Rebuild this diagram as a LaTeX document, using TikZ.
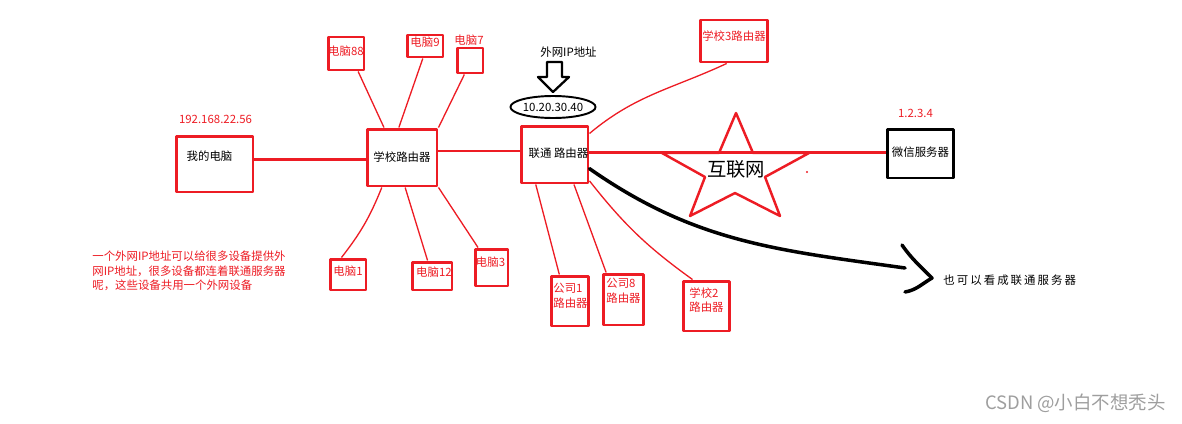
\documentclass[tikz,border=0pt]{standalone}
\usepackage{fontspec}
\setmainfont{Noto Sans CJK SC}
\newfontfamily\widecjk[LetterSpace=18]{Noto Sans CJK SC}
\usepackage{tikz}
\usetikzlibrary{calc}
\usetikzlibrary{shapes.geometric}

\definecolor{paintred}{RGB}{237,28,36}

\begin{document}
\begin{tikzpicture}[x=0.02cm, y=-0.02cm, line join=round,
        box_style/.style={rectangle,draw=paintred,line width=1.7pt,inner sep=0pt},
        server_style/.style={rectangle,draw=black,line width=1.7pt,inner sep=0pt},
        text_style/.style={font=\fontsize{6.5}{8.4}\selectfont,inner sep=0pt},
        red_text_style/.style={text_style,text=paintred},
        link_style/.style={draw=paintred,line width=0.75pt},
        trunk_style/.style={draw=paintred,line width=1.5pt},
        pen_style/.style={draw=black,line width=2pt,line cap=round}]

        \useasboundingbox (0,0) rectangle (1182,423);

        % school side
        \node [box_style,minimum width=1.54cm,minimum height=1.12cm](mypc) at (214.5,164) {};
        \node [text_style](mypc_text) at (209.5,156) {我的电脑};
        \node [red_text_style](mypc_ip) at (215.5,119) {192.168.22.56};

        \node [box_style,minimum width=1.40cm,minimum height=1.14cm,text_style](school) at (402,157.5) {学校路由器};

        \node [box_style,minimum width=0.72cm,minimum height=0.66cm](pc88) at (346,53.5) {};
        \node [red_text_style](pc88_text) at (346,51) {电脑88};

        \node [box_style,minimum width=0.72cm,minimum height=0.44cm](pc9) at (425,46) {};
        \node [red_text_style](pc9_text) at (425,42) {电脑9};

        \node [box_style,minimum width=0.52cm,minimum height=0.50cm](pc7) at (470,60.5) {};
        \node [red_text_style](pc7_text) at (469,40) {电脑7};

        \node [box_style,minimum width=0.72cm,minimum height=0.62cm](pc1) at (348,274.5) {};
        \node [red_text_style](pc1_text) at (348,271) {电脑1};

        \node [box_style,minimum width=0.80cm,minimum height=0.56cm](pc12) at (432,276) {};
        \node [red_text_style](pc12_text) at (434,272) {电脑12};

        \node [box_style,minimum width=0.66cm,minimum height=0.74cm](pc3) at (491.5,267.5) {};
        \node [red_text_style](pc3_text) at (490.5,262) {电脑3};

        \node [red_text_style,anchor=west,align=left](note) at (92,271) {一个外网IP地址可以给很多设备提供外\\网IP地址，很多设备都连着联通服务器\\呢，这些设备共用一个外网设备};

        % unicom side
        \node [box_style,minimum width=1.34cm,minimum height=1.14cm](unicom) at (554.5,154.5) {};
        \node [text_style](unicom_text) at (558.5,153) {联通 路由器};

        \node [ellipse,draw=black,line width=1.1pt,minimum width=1.52cm,minimum height=0.44cm,inner sep=0pt,text_style](wan_ip) at (553,107) {10.20.30.40};
        \node [text_style](wan_text) at (568.5,52) {外网IP地址};
        \draw [black,line width=1.3pt] (547,62) -- (562,62) -- (562,77) -- (569,77) -- (553,92) -- (538,77) -- (547,77) -- cycle;

        \node [box_style,minimum width=1.34cm,minimum height=0.84cm](school3) at (733.5,41) {};
        \node [red_text_style](school3_text) at (734,36) {学校3路由器};

        \node [box_style,minimum width=0.74cm,minimum height=1.00cm](corp1) at (569.5,301) {};
        \node [red_text_style,anchor=west,align=left](corp1_text) at (553,295.5) {公司1\\路由器};

        \node [box_style,minimum width=0.80cm,minimum height=1.02cm](corp8) at (623,299.5) {};
        \node [red_text_style,anchor=west,align=left](corp8_text) at (606,291) {公司8\\路由器};

        \node [box_style,minimum width=0.92cm,minimum height=1.00cm](school2) at (706,306) {};
        \node [red_text_style,anchor=west,align=left](school2_text) at (689,300) {学校2\\路由器};

        % internet
        \draw [paintred,line width=1.4pt] (736,113) -- (753,153) -- (809,153) -- (765,177) -- (780,216)
            -- (735,193) -- (690,216) -- (705,177) -- (662,153) -- (719,153) -- cycle;
        \node [font=\fontsize{11}{13}\selectfont,inner sep=0pt](net_text) at (736,169) {互联网};
        \fill [paintred] (807,172) circle (0.7pt);

        \node [server_style,minimum width=1.32cm,minimum height=0.98cm](wechat) at (920,153.5) {};
        \node [text_style](wechat_text) at (920.5,152) {微信服务器};
        \node [red_text_style](wechat_ip) at (915.5,113) {1.2.3.4};

        \coordinate (pen_end) at (905,268);
        \node [text_style,font=\fontsize{6.5}{8.4}\widecjk,anchor=west](pen_text) at (943,280) {也可以看成联通服务器};

        \node [font=\fontsize{10.5}{12}\selectfont,text=black!38,anchor=east,inner sep=0pt](mark) at (1166,403) {CSDN @小白不想秃头};

        % links
        \draw [trunk_style,line width=1.7pt] (mypc.7) -- (mypc.7 -| school.west);
        \draw [trunk_style] (school.10) -- (school.10 -| unicom.west);
        \draw [trunk_style] (unicom.3) -- (unicom.3 -| wechat.west);

        \draw [link_style] (pc88.-56) -- (school.121);
        \draw [link_style] (pc9.-100) -- (school.96);
        \draw [link_style] (pc7.-112) -- (school.north east);
        \draw [link_style] (school.-124) to[bend left=8] (pc1.111);
        \draw [link_style] (school.-84) -- (pc12.106);
        \draw [link_style] (school.south east) -- (pc3.124);

        \draw [link_style] (unicom.31.5) to[out=40,in=205] (school3.-107);
        \draw [link_style] (unicom.-122) -- (corp1.111);
        \draw [link_style] (unicom.-57) -- (corp8.122);
        \draw [link_style] (unicom.-37) to[bend right=8] (school2.117);

        \draw [pen_style] (unicom.-22) to[out=-35,in=172] (pen_end);
        \draw [pen_style] (902,245) to[out=-55,in=135] (932,278) to[out=-150,in=10] (905,292);

        \end{tikzpicture}
\end{document}
